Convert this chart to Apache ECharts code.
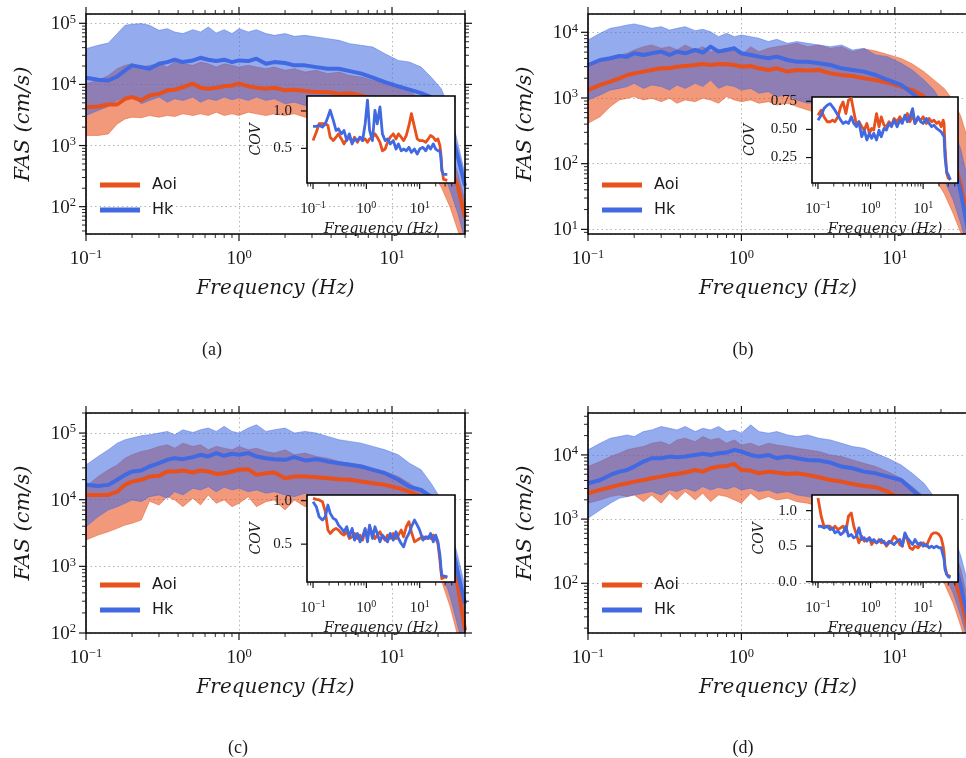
<!DOCTYPE html>
<html><head><meta charset="utf-8">
<script src="https://cdn.jsdelivr.net/npm/echarts@6/dist/echarts.min.js"></script>
<style>html,body{margin:0;padding:0;background:#fff}#c{width:966px;height:758px}</style>
</head><body><div id="c"></div>
<script>
// ---------- frequencies ----------
const F = [0.1,0.12,0.14,0.16,0.18,0.2,0.23,0.26,0.3,0.34,0.38,0.43,0.5,0.56,0.63,0.71,0.8,0.9,1.0,1.15,1.3,1.5,1.7,2.0,2.3,2.7,3.2,3.8,4.5,5.3,6.3,7.5,9,11,13,15.5,18,21,24,27,30];
const FI = [0.1,0.115,0.13,0.15,0.17,0.19,0.21,0.24,0.27,0.3,0.34,0.38,0.43,0.48,0.54,0.6,0.68,0.76,0.85,0.95,1.05,1.15,1.3,1.45,1.6,1.8,2.0,2.25,2.5,2.8,3.2,3.6,4.0,4.5,5.0,5.6,6.3,7.0,8.0,9.0,10,11.5,13,14.5,16,18,20,22,24,25,26,28,30,33];

// ---------- panel (a) ----------
const A_AOI = [4250,4350,4700,4700,5800,6200,5500,6600,7000,8000,8200,9000,10300,8800,8500,8800,9300,9600,10300,9300,8800,8500,8800,8000,8200,7800,7500,7500,7000,7200,6600,5800,5100,4250,3300,2300,1550,830,440,210,67];
const A_AOI_LO = [1460,1460,1550,2260,2730,2910,2850,3100,2910,3100,2990,3300,3100,3300,3100,3520,3100,3300,3100,3520,3300,3100,3300,3100,3300,2910,2730,2570,2420,2260,2000,1760,1550,1210,940,645,390,208,97,40,17];
const A_AOI_HI = [10250,11600,14000,18100,20500,21800,19200,20500,21800,19200,23200,21800,20500,23200,21800,19200,21800,20500,19200,20500,19200,18100,19200,17000,18100,15900,17000,15000,15900,14000,13200,11600,10900,9630,7980,5470,3300,1760,830,343,125];
const A_HK = [12900,11900,11600,13500,17000,20500,19200,18100,21800,23200,25400,23200,24700,27300,25400,24100,25400,23200,24700,24100,26400,21800,23200,22400,20500,20500,19200,18100,18100,16500,15000,12900,10900,9300,8200,7200,6200,4200,2000,640,220];
const A_HK_LO = [3100,3750,4360,5470,6200,6600,4820,5470,6200,5130,5820,5470,6200,5130,5820,5470,6200,5610,6040,5470,6200,5470,5820,4820,5130,4530,4250,3990,3750,3300,2910,2570,2260,1870,1550,1210,830,440,183,76,28];
const A_HK_HI = [38400,43600,47600,67800,92800,96400,98900,92800,76700,81800,72100,67800,78700,72100,87100,69500,78700,67800,81800,72100,78700,67800,63500,67800,61200,63500,59700,56100,52600,46400,43600,40900,31800,24700,23200,19200,13200,8500,3750,1060,340];
const A_AOI_COV = [0.604,0.716,0.829,0.829,0.829,0.806,0.649,0.604,0.649,0.694,0.626,0.559,0.626,0.649,0.581,0.649,0.581,0.649,0.604,0.626,0.581,0.626,0.649,0.694,0.649,0.581,0.468,0.491,0.581,0.649,0.694,0.626,0.694,0.649,0.604,0.671,0.806,0.964,0.784,0.626,0.604,0.604,0.581,0.626,0.671,0.649,0.604,0.626,0.536,0.423,0.243,0.086,0.072,0.072];
const A_HK_COV = [0.793,0.793,0.806,0.784,0.829,0.919,1.009,0.874,0.739,0.761,0.694,0.739,0.604,0.694,0.559,0.626,0.604,0.649,0.604,0.829,1.144,0.739,0.604,1.009,0.829,1.054,0.694,0.604,0.626,0.559,0.604,0.491,0.559,0.468,0.491,0.468,0.514,0.446,0.491,0.423,0.491,0.514,0.468,0.536,0.491,0.559,0.491,0.468,0.468,0.378,0.198,0.153,0.162,0.153];

// ---------- panel (b) ----------
const B_AOI = [1320,1580,1770,1990,2240,2370,2520,2670,2830,2830,3000,3070,3180,3300,3180,3300,3260,3180,3000,3070,2830,2670,2830,2520,2670,2610,2670,2370,2240,2160,1990,1880,1710,1490,1320,1050,660,290,128,45,14];
const B_AOI_LO = [411,520,740,933,990,1050,933,990,880,990,830,933,880,990,933,830,1050,933,880,933,830,880,782,830,740,656,584,520,463,411,345,290,243,192,144,101,63,35,17.5,8.7,3.4];
const B_AOI_HI = [3000,3570,4020,4520,4790,5390,6050,6410,5710,6050,5390,6410,5390,6050,5080,5390,5710,5390,4520,6050,5080,5710,6050,6410,6800,6050,6410,5710,6050,5080,5600,5200,4600,4000,3300,2520,1880,1400,930,520,230];
const B_HK = [3180,3790,4020,4360,4260,4790,4520,4790,5080,4520,5080,4790,5390,4900,6050,5080,5390,5710,4790,4520,4260,4020,4260,3790,3570,3570,3380,3180,2830,2670,2520,2240,1880,1580,1180,830,460,230,114,35,9.8];
const B_HK_LO = [933,1110,1320,1400,1490,1670,1400,1580,1490,1320,1580,1400,1670,1490,1880,1400,1580,1490,1320,1400,1180,1250,1050,1110,933,830,880,740,660,584,520,436,366,290,229,161,101,56,28,12,4.8];
const B_HK_HI = [7640,9660,11500,12200,12900,13400,12500,11500,12200,10800,11500,12200,10600,11100,10200,8590,9660,8590,9110,8590,8110,7220,7820,6800,7220,6800,6410,6050,6410,5390,5710,4520,4260,3380,2670,1880,1320,740,366,161,56];
const B_AOI_COV = [0.626,0.671,0.612,0.568,0.568,0.582,0.568,0.612,0.700,0.744,0.641,0.759,0.774,0.656,0.538,0.568,0.524,0.494,0.553,0.465,0.509,0.494,0.641,0.524,0.612,0.538,0.524,0.568,0.538,0.597,0.568,0.612,0.582,0.597,0.641,0.568,0.626,0.553,0.597,0.582,0.612,0.553,0.597,0.568,0.582,0.553,0.568,0.524,0.582,0.553,0.347,0.112,0.068,0.053];
const B_HK_COV = [0.582,0.626,0.685,0.715,0.729,0.700,0.671,0.626,0.582,0.553,0.568,0.553,0.612,0.553,0.524,0.568,0.435,0.494,0.406,0.465,0.421,0.465,0.406,0.494,0.435,0.509,0.494,0.553,0.524,0.582,0.524,0.582,0.553,0.626,0.568,0.612,0.685,0.553,0.612,0.568,0.553,0.597,0.553,0.524,0.538,0.509,0.494,0.479,0.494,0.435,0.259,0.126,0.097,0.053];

// ---------- panel (c) ----------
const C_AOI = [11800,11800,11800,13200,16700,18700,19900,22300,22800,26500,26500,27400,25600,27400,26500,24400,25000,26500,28100,28700,23600,25000,25600,21000,22300,22300,21800,21000,20300,19900,18700,17700,16700,14900,13200,11100,7870,3940,1560,492,110];
const C_AOI_LO = [2480,2950,3310,3720,4170,4420,4960,9500,8300,11100,9920,7870,10500,8340,11800,8830,9920,7870,8830,11100,7870,9350,9920,7020,9920,7870,8830,7430,7020,6250,5570,4960,4170,3310,2620,1970,1240,620,246,87,31];
const C_AOI_HI = [15700,22300,28100,33300,42000,47200,53000,56100,63000,66700,59400,70600,63000,66700,56100,63000,59400,56100,63000,56100,59400,53000,50000,56100,47200,50000,44600,42000,37500,35300,33300,29700,26500,22300,17700,13200,8830,4960,1970,695,219];
const C_HK = [16700,16100,16700,19900,23600,26500,27400,31500,35300,39700,42000,40600,43600,47200,44600,50000,45600,48900,47200,50000,44600,42000,40600,39700,43600,38800,40600,37500,35300,33400,31500,28100,25000,19900,15700,14000,11100,7020,2790,782,276];
const C_HK_LO = [3940,5570,7020,7870,8830,9920,9350,11100,11800,10500,13200,11800,14900,14000,15700,13200,15400,14000,14900,13200,14000,12500,13200,11800,11100,12500,10500,9920,8830,8340,7870,7020,6250,4960,3940,2790,1750,877,348,123,49];
const C_HK_HI = [33300,44600,56100,70600,79300,84100,91200,94400,100000,106000,94400,112000,102000,112000,119000,106000,126000,106000,100000,119000,133000,106000,112000,119000,100000,106000,100000,89100,79300,75000,70600,63000,56100,47200,35300,28100,17700,10000,3940,1390,492];
const C_AOI_COV = [1.027,1.015,1.008,0.988,0.873,0.662,0.623,0.662,0.681,0.662,0.623,0.604,0.642,0.565,0.585,0.623,0.565,0.604,0.546,0.662,0.585,0.700,0.623,0.565,0.604,0.642,0.585,0.546,0.604,0.565,0.623,0.565,0.604,0.662,0.585,0.700,0.758,0.642,0.527,0.546,0.565,0.585,0.565,0.585,0.565,0.604,0.565,0.508,0.315,0.200,0.104,0.092,0.123,0.115];
const C_HK_COV = [0.988,0.931,0.815,0.777,0.815,0.950,0.854,0.796,0.777,0.719,0.681,0.642,0.700,0.585,0.681,0.546,0.623,0.527,0.585,0.681,0.527,0.719,0.565,0.700,0.623,0.527,0.604,0.565,0.527,0.623,0.546,0.642,0.565,0.508,0.469,0.565,0.623,0.700,0.777,0.719,0.662,0.546,0.585,0.565,0.623,0.527,0.604,0.527,0.373,0.238,0.142,0.123,0.131,0.123];

// ---------- panel (d) ----------
const D_AOI = [2530,2850,3140,3410,3610,3840,4070,4330,4590,4870,5060,5310,5830,5490,6200,6580,6740,7240,5830,5700,5170,5490,5310,5060,5170,4870,4490,4070,3840,3530,3290,3140,2690,1990,1390,971,601,330,143,55,19];
const D_AOI_LO = [1770,1990,2240,2380,2240,2380,1870,2380,1770,2530,1990,2690,1990,2530,1870,2380,2240,1990,1770,2530,1990,2240,1990,2110,1870,1770,1570,1390,1230,1090,971,811,678,534,420,294,182,100,49,21,8.1];
const D_AOI_HI = [6580,7870,9420,10600,12000,12700,13500,15200,16100,14300,17100,18200,16100,19300,17100,18200,15200,17100,14300,15200,13500,15200,14300,13500,12700,12000,11300,10000,9420,8360,7410,6580,5490,4330,3210,2240,1390,764,372,162,55];
const D_HK = [3610,4070,4870,5490,5830,6580,7870,8870,8870,9420,9200,9420,10000,10400,10000,10600,10900,12000,11300,10000,9420,10000,8870,9420,8870,8360,8160,7600,6580,6200,5490,5170,4590,4070,2850,1990,1230,601,261,89,27];
const D_HK_LO = [1030,1390,1770,2110,2240,2380,2530,2690,2380,2850,2690,3030,2690,3210,2850,3130,2920,3210,2850,3030,2690,2850,2530,2690,2380,2240,2110,1870,1770,1570,1390,1160,971,764,601,420,261,142,70,30,12];
const D_HK_HI = [12000,15200,18200,19300,20500,19300,23100,24500,27700,26000,24500,27700,23100,26000,24500,27700,23100,24500,21800,29400,23100,21800,23100,20500,19300,20500,18200,17100,15200,13500,12700,10600,8870,6980,5170,3610,2240,1230,601,261,100];
const D_AOI_COV = [1.178,0.921,0.780,0.780,0.780,0.734,0.780,0.734,0.757,0.780,0.710,0.921,0.967,0.780,0.664,0.547,0.640,0.570,0.593,0.617,0.523,0.570,0.547,0.593,0.547,0.570,0.500,0.547,0.570,0.640,0.593,0.523,0.500,0.664,0.593,0.477,0.453,0.500,0.477,0.523,0.547,0.500,0.593,0.664,0.687,0.687,0.664,0.617,0.500,0.407,0.220,0.103,0.079,0.070];
const D_HK_COV = [0.780,0.780,0.757,0.780,0.734,0.757,0.687,0.710,0.664,0.687,0.780,0.640,0.664,0.617,0.640,0.757,0.593,0.617,0.570,0.617,0.570,0.593,0.547,0.570,0.593,0.547,0.523,0.570,0.547,0.523,0.570,0.593,0.500,0.687,0.617,0.570,0.523,0.593,0.523,0.547,0.500,0.523,0.477,0.500,0.477,0.500,0.477,0.477,0.477,0.313,0.173,0.103,0.070,0.056];

// ---------- tick values ----------
const X_MAJOR = [0.1, 1, 10];
const X_MINOR = [0.08,0.09,0.2,0.3,0.4,0.5,0.6,0.7,0.8,0.9,2,3,4,5,6,7,8,9,20,30,40];
const Y_MAJOR = [1,10,100,1000,10000,100000,1000000];
const Y_MINOR = [2,3,4,5,6,7,8,9,20,30,40,50,60,70,80,90,200,300,400,500,600,700,800,900,2000,3000,4000,5000,6000,7000,8000,9000,20000,30000,40000,50000,60000,70000,80000,90000,200000];
const COV_TICKS_A = [0.5, 1.0];
const COV_TICKS_B = [0.25, 0.5, 0.75];
const COV_TICKS_C = [0.5, 1.0];
const COV_TICKS_D = [0.0, 0.5, 1.0];

// ---------- styling / layout ----------
const SERIF = 'Liberation Serif';
const ISERIF = 'DejaVu Serif';
const AOI_COLOR = '#E8501C';
const HK_COLOR = '#4169E1';
const AOI_FILL = 'rgba(232,80,28,0.58)';
const HK_FILL = 'rgba(65,105,225,0.56)';
const INSET_X = [0.077, 46];
const MAIN_X = [0.1, 30];

const PANELS = [
  {g:{left:86,top:14,width:379,height:220}, yr:[35.7,142000], ig:{left:307,top:96,width:148,height:87}, cr:[0.037,1.2], ct:COV_TICKS_A, cd:1, cg:44, lg:{left:95,top:172}, cap:{x:207,y:336,t:'(a)'},
   d:{m1:A_AOI,l1:A_AOI_LO,h1:A_AOI_HI,m2:A_HK,l2:A_HK_LO,h2:A_HK_HI,c1:A_AOI_COV,c2:A_HK_COV}},
  {g:{left:588,top:14,width:380,height:220}, yr:[8.5,19000], ig:{left:812,top:97,width:146,height:86}, cr:[0.024,0.788], ct:COV_TICKS_B, cd:2, cg:55, lg:{left:597,top:172}, cap:{x:738,y:336,t:'(b)'},
   d:{m1:B_AOI,l1:B_AOI_LO,h1:B_AOI_HI,m2:B_HK,l2:B_HK_LO,h2:B_HK_HI,c1:B_AOI_COV,c2:B_HK_COV}},
  {g:{left:86,top:413,width:379,height:220}, yr:[100,200000], ig:{left:307,top:495,width:148,height:87}, cr:[0.065,1.065], ct:COV_TICKS_C, cd:1, cg:44, lg:{left:95,top:572}, cap:{x:233,y:734,t:'(c)'},
   d:{m1:C_AOI,l1:C_AOI_LO,h1:C_AOI_HI,m2:C_HK,l2:C_HK_LO,h2:C_HK_HI,c1:C_AOI_COV,c2:C_HK_COV}},
  {g:{left:588,top:413,width:380,height:220}, yr:[16.8,45000], ig:{left:812,top:495,width:146,height:87}, cr:[-0.005,1.22], ct:COV_TICKS_D, cd:1, cg:46, lg:{left:597,top:572}, cap:{x:738,y:734,t:'(d)'},
   d:{m1:D_AOI,l1:D_AOI_LO,h1:D_AOI_HI,m2:D_HK,l2:D_HK_LO,h2:D_HK_HI,c1:D_AOI_COV,c2:D_HK_COV}}
];

function powLabel(v) {
  const e = Math.log10(v); const r = Math.round(e);
  if (Math.abs(e - r) > 1e-6) return '';
  return '{b|10}{s|' + (r < 0 ? '\u2212' + (-r) : String(r)) + '}';
}
const RICH_MAIN = {
  b: {fontFamily: SERIF, fontSize: 19, color: '#1a1a1a', lineHeight: 21, verticalAlign: 'bottom'},
  s: {fontFamily: SERIF, fontSize: 12.5, color: '#1a1a1a', verticalAlign: 'top'}
};
const RICH_INSET = {
  b: {fontFamily: SERIF, fontSize: 15, color: '#1a1a1a', lineHeight: 17, verticalAlign: 'bottom'},
  s: {fontFamily: SERIF, fontSize: 10, color: '#1a1a1a', verticalAlign: 'top'}
};

function tickSeries(xi, yi, xr, yr, ylog, spec, z) {
  const xm = Math.sqrt(xr[0] * xr[1]);
  const ym = ylog ? Math.sqrt(yr[0] * yr[1]) : (yr[0] + yr[1]) / 2;
  const inX = v => v >= xr[0] * 0.999 && v <= xr[1] * 1.001;
  const inY = v => v >= yr[0] - 1e-9 && v <= yr[1] + 1e-9;
  return {
    type: 'custom', xAxisIndex: xi, yAxisIndex: yi, z: z, silent: true, clip: false,
    data: [[xm, ym]],
    renderItem: function (params, api) {
      const cs = params.coordSys; const ch = [];
      const bottom = cs.y + cs.height, right = cs.x + cs.width;
      const ln = (x1, y1, x2, y2, w) => ch.push({type: 'line', shape: {x1, y1, x2, y2}, style: {stroke: '#111', lineWidth: w}});
      spec.xMajor.filter(inX).forEach(v => { const x = api.coord([v, ym])[0]; ln(x, bottom, x, bottom + spec.maj, 1.2); if (spec.top) ln(x, cs.y, x, cs.y - spec.maj, 1.2); });
      spec.xMinor.filter(inX).forEach(v => { const x = api.coord([v, ym])[0]; ln(x, bottom, x, bottom + spec.min, 0.9); if (spec.top) ln(x, cs.y, x, cs.y - spec.min, 0.9); });
      spec.yMajor.filter(inY).forEach(v => { const y = api.coord([xm, v])[1]; ln(cs.x, y, cs.x - spec.maj, y, 1.2); if (spec.right) ln(right, y, right + spec.maj, y, 1.2); });
      spec.yMinor.filter(inY).forEach(v => { const y = api.coord([xm, v])[1]; ln(cs.x, y, cs.x - spec.min, y, 0.9); if (spec.right) ln(right, y, right + spec.min, y, 0.9); });
      return {type: 'group', children: ch};
    }
  };
}

function bandSeries(xi, yi, fx, lo, hi, fill, z) {
  return {
    type: 'custom', xAxisIndex: xi, yAxisIndex: yi, z: z, silent: true, clip: true,
    data: fx.map((f, i) => [f, lo[i], hi[i]]),
    encode: {x: 0, y: [1, 2]},
    renderItem: function (params, api) {
      if (params.dataIndex !== 0) return null;
      const pts = [];
      for (let i = 0; i < fx.length; i++) pts.push(api.coord([fx[i], hi[i]]));
      for (let i = fx.length - 1; i >= 0; i--) pts.push(api.coord([fx[i], lo[i]]));
      return {type: 'polygon', shape: {points: pts}, style: {fill: fill, stroke: fill, lineWidth: 0.8}};
    }
  };
}

function lineSeries(name, xi, yi, fx, vals, color, width, z) {
  return {
    type: 'line', name: name, xAxisIndex: xi, yAxisIndex: yi, z: z, silent: true,
    data: fx.map((f, i) => [f, vals[i]]),
    symbol: 'none', showSymbol: false, clip: true,
    color: color, itemStyle: {color: color},
    lineStyle: {color: color, width: width, join: 'round'}
  };
}

const grids = [], xAxes = [], yAxes = [], series = [], legends = [], titles = [];
PANELS.forEach((p, k) => {
  const mi = 2 * k, ii = 2 * k + 1;
  grids.push(Object.assign({show: true, borderColor: '#000', borderWidth: 1.6, backgroundColor: 'rgba(0,0,0,0)', z: 4, containLabel: false, outerBoundsMode: 'none'}, p.g));
  grids.push(Object.assign({show: true, borderColor: '#000', borderWidth: 1.6, backgroundColor: '#fff', z: 10, containLabel: false, outerBoundsMode: 'none'}, p.ig));

  xAxes.push({gridIndex: mi, type: 'log', logBase: 10, min: MAIN_X[0], max: MAIN_X[1],
    axisLine: {show: false}, axisTick: {show: false},
    splitLine: {show: true, lineStyle: {color: '#b4b4b4', width: 1, type: [1.5, 3]}},
    axisLabel: {formatter: powLabel, margin: 14, rich: RICH_MAIN},
    name: 'Frequency (Hz)', nameLocation: 'middle', nameGap: 45,
    nameTextStyle: {fontFamily: ISERIF, fontStyle: 'italic', fontSize: 20, color: '#1a1a1a'}});
  xAxes.push({gridIndex: ii, type: 'log', logBase: 10, min: INSET_X[0], max: INSET_X[1], z: 11,
    axisLine: {show: false}, axisTick: {show: false}, splitLine: {show: false},
    axisLabel: {formatter: powLabel, margin: 17, rich: RICH_INSET},
    name: 'Frequency (Hz)', nameLocation: 'middle', nameGap: 39,
    nameTextStyle: {fontFamily: ISERIF, fontStyle: 'italic', fontSize: 14.5, color: '#1a1a1a'}});

  yAxes.push({gridIndex: mi, type: 'log', logBase: 10, min: p.yr[0], max: p.yr[1],
    axisLine: {show: false}, axisTick: {show: false},
    splitLine: {show: true, lineStyle: {color: '#b4b4b4', width: 1, type: [1.5, 3]}},
    axisLabel: {formatter: powLabel, margin: 10, rich: RICH_MAIN},
    name: 'FAS (cm/s)', nameLocation: 'middle', nameGap: 52,
    nameTextStyle: {fontFamily: ISERIF, fontStyle: 'italic', fontSize: 21, color: '#1a1a1a'}});
  yAxes.push({gridIndex: ii, type: 'value', min: p.cr[0], max: p.cr[1], z: 11,
    axisLine: {show: false}, axisTick: {show: false}, splitLine: {show: false},
    axisLabel: {customValues: p.ct, formatter: v => Number(v).toFixed(p.cd), margin: 15, fontFamily: SERIF, fontSize: 15, color: '#1a1a1a'},
    name: 'COV', nameLocation: 'middle', nameGap: p.cg,
    nameTextStyle: {fontFamily: ISERIF, fontStyle: 'italic', fontSize: 14, color: '#1a1a1a'}});

  const d = p.d;
  series.push(bandSeries(mi, mi, F, d.l1, d.h1, AOI_FILL, 2));
  series.push(bandSeries(mi, mi, F, d.l2, d.h2, HK_FILL, 2));
  series.push(lineSeries('Aoi', mi, mi, F, d.m1, AOI_COLOR, 4, 3));
  series.push(lineSeries('Hk', mi, mi, F, d.m2, HK_COLOR, 4, 3));
  series.push(tickSeries(mi, mi, MAIN_X, p.yr, true,
    {xMajor: X_MAJOR, xMinor: X_MINOR, yMajor: Y_MAJOR, yMinor: Y_MINOR, maj: 7, min: 4, top: true, right: true}, 5));
  series.push(lineSeries('Aoi COV', ii, ii, FI, d.c1, AOI_COLOR, 2.8, 12));
  series.push(lineSeries('Hk COV', ii, ii, FI, d.c2, HK_COLOR, 2.8, 12));
  series.push(tickSeries(ii, ii, INSET_X, p.cr, false,
    {xMajor: X_MAJOR, xMinor: X_MINOR, yMajor: p.ct, yMinor: [], maj: 6, min: 3.5, top: false, right: false}, 13));

  legends.push({left: p.lg.left, top: p.lg.top, orient: 'vertical', data: ['Aoi', 'Hk'], icon: 'rect',
    itemWidth: 40, itemHeight: 5, itemGap: 9, selectedMode: false, z: 6,
    textStyle: {fontFamily: 'DejaVu Sans', fontSize: 16, color: '#1a1a1a', padding: [0, 0, 0, 7]}});
  titles.push({text: p.cap.t, left: p.cap.x, top: p.cap.y, textAlign: 'center',
    textStyle: {fontFamily: SERIF, fontSize: 18, fontWeight: 'normal', color: '#1a1a1a'}});
});

const chart = echarts.init(document.getElementById('c'), null, {renderer: 'canvas'});
chart.setOption({
  animation: false,
  backgroundColor: '#fff',
  title: titles,
  legend: legends,
  grid: grids,
  xAxis: xAxes,
  yAxis: yAxes,
  series: series
});
</script>
</body></html>
